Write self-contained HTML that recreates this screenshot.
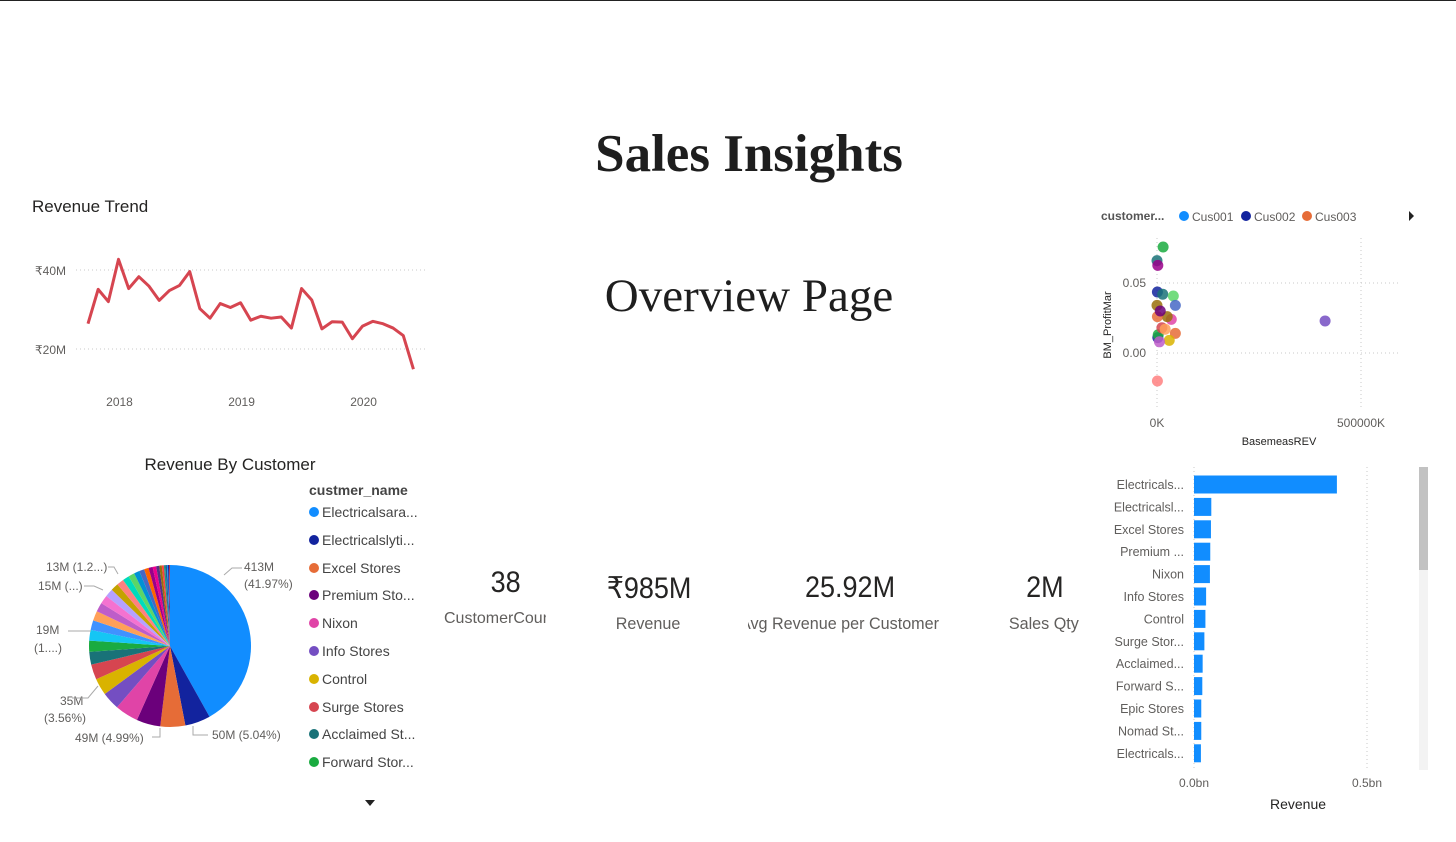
<!DOCTYPE html>
<html><head><meta charset="utf-8">
<style>
html,body{margin:0;padding:0;background:#fff;}
body{width:1456px;height:842px;position:relative;overflow:hidden;font-family:"Liberation Sans",sans-serif;color:#252423;}
.abs{position:absolute;}
.kv{position:absolute;font-size:30px;color:#252423;transform:scaleX(0.9);white-space:nowrap;}
.kl{position:absolute;font-size:17px;color:#605e5c;transform:scaleX(0.95);white-space:nowrap;}
</style></head>
<body>
<div class="abs" style="left:0;top:0;width:1456px;height:1px;background:#222"></div>
<div class="abs" style="left:449px;width:600px;top:124px;text-align:center;font-family:'Liberation Serif',serif;font-weight:bold;font-size:53px;color:#1e1e1e">Sales Insights</div>
<div class="abs" style="left:449px;width:600px;top:269px;text-align:center;font-family:'Liberation Serif',serif;font-size:47px;color:#1e1e1e">Overview Page</div>

<svg class="abs" style="left:0;top:0" width="1456" height="842">
<g id="line">
<text x="32" y="212" font-size="17" fill="#252423">Revenue Trend</text>
</g>
<g id="pie">
<text x="230" y="470" font-size="17" text-anchor="middle" fill="#252423">Revenue By Customer</text>
</g>
<g id="scatter"></g>
<g id="bars"></g>
</svg>

<div class="abs" style="left:309px;top:482px;font-size:14px;">
<div style="font-weight:bold;color:#444;margin-bottom:6px">custmer_name</div>
<div id="legend"></div>
<div style="position:absolute;left:56px;top:318px;width:0;height:0;border-left:5px solid transparent;border-right:5px solid transparent;border-top:6px solid #222"></div>
</div>

<div class="kv" style="left:489px;top:566px">38</div>
<div class="kl" style="left:444px;top:610px;width:102px;overflow:hidden;transform:none;font-size:16px">CustomerCount</div>
<div class="kv" style="left:602px;top:571px">₹985M</div>
<div class="kl" style="left:614px;top:614px">Revenue</div>
<div class="kv" style="left:800px;top:571px">25.92M</div>
<div class="abs" style="left:748px;top:614px;width:210px;overflow:hidden;height:22px"><div class="kl" style="left:-8px;top:0;transform-origin:0 0">Avg Revenue per Customer</div></div>
<div class="kv" style="left:1024px;top:571px">2M</div>
<div class="kl" style="left:1007px;top:614px">Sales Qty</div>

<div class="abs" style="left:1419px;top:467px;width:9px;height:303px;background:#f3f3f3"></div>
<div class="abs" style="left:1419px;top:467px;width:9px;height:103px;background:#c2c2c2"></div>

<script>
const NS="http://www.w3.org/2000/svg";
function mk(p,tag,a,txt){const e=document.createElementNS(NS,tag);for(const k in a)e.setAttribute(k,a[k]);if(txt!==undefined)e.textContent=txt;p.appendChild(e);return e;}
const PAL=["#118DFF","#12239E","#E66C37","#6B007B","#E044A7","#744EC2","#D9B300","#D64550","#197278","#1AAB40","#15C6F4","#4092FF","#FFA058","#BE5DC9","#F472D0","#B5A1FF","#C4A200","#FF8080","#00DBBC","#5BD667","#0091D5","#4668C5","#FF6300","#99008A","#EC008C","#533285","#99700A","#FF4141","#1F9A85","#255A8F","#118DFF","#12239E","#E66C37","#6B007B","#E044A7","#744EC2","#D9B300","#D64550"];

// ---- line chart data
const trendMonths=33; // Oct 2017 .. Jun 2020
const trendValues=[26.4,35.1,32.0,42.7,35.3,38.3,35.9,32.3,34.8,36.1,39.6,30.2,27.8,31.5,30.5,31.7,27.3,28.3,27.8,28.1,25.3,35.3,32.4,25.1,26.9,26.8,22.6,25.8,27.0,26.4,25.3,23.4,14.9];
const trendYTicks=[20,40];
const trendYearLabels=["2018","2019","2020"];
const trendYearIndex=[3,15,27];
{
 const g=document.getElementById('line');
 const x=i=>88+i*10.17, y=v=>349-(v-20)*3.95;
 trendYTicks.forEach(t=>{
  const gl=mk(g,'line',{x1:76,x2:425,y1:y(t),y2:y(t),stroke:'#c8c8c8','stroke-dasharray':'1 3'});
  
  const tl=mk(g,'text',{x:66,y:y(t)+5,'font-size':12,fill:'#605e5c','text-anchor':'end'},'₹'+t+'M');
  
 });
 trendYearLabels.forEach((l,k)=>{
  const t=mk(g,'text',{x:x(trendYearIndex[k])+1,y:406,'font-size':12,fill:'#605e5c','text-anchor':'middle'},l);
  
 });
 const p=mk(g,'polyline',{points:trendValues.map((v,i)=>x(i)+','+y(v)).join(' '),fill:'none',stroke:'#D64550','stroke-width':3,'stroke-linejoin':'round'});
 
}

// ---- pie data
const custNames=["Electricalsara...","Electricalslyti...","Excel Stores","Premium Sto...","Nixon","Info Stores","Control","Surge Stores","Acclaimed St...","Forward Stor..."];
const pieValues=[413,50,49,47,46,35,33,30,25,22,21,19,19,18,17,16,15,14,13,12,11,10,9,8,7,6,5,4,3,3,2,2,1,1];
{
 const g=document.getElementById('pie');
 const cx=170,cy=646,r=81,tot=pieValues.reduce((a,b)=>a+b,0);
 let a=0;
 pieValues.forEach((v,i)=>{
  const a0=a/tot*2*Math.PI,a1=(a+v)/tot*2*Math.PI;a+=v;
  const p0=[cx+r*Math.sin(a0),cy-r*Math.cos(a0)],p1=[cx+r*Math.sin(a1),cy-r*Math.cos(a1)];
  const s=mk(g,'path',{d:`M${cx},${cy}L${p0[0]},${p0[1]}A${r},${r} 0 ${a1-a0>Math.PI?1:0} 1 ${p1[0]},${p1[1]}Z`,fill:PAL[i%PAL.length]});
  
 });
 const labs=[[244,571,"413M"],[244,588,"(41.97%)"],[212,739,"50M (5.04%)"],[75,742,"49M (4.99%)"],[60,705,"35M"],[44,722,"(3.56%)"],[36,634,"19M"],[34,652,"(1....)"],[38,590,"15M (...)"],[46,571,"13M (1.2...)"]];
 labs.forEach(l=>{const t=mk(g,'text',{x:l[0],y:l[1],'font-size':12,fill:'#605e5c'},l[2]);
  });
 [[ "M224,575 L232,568 L242,568"],["M193,726 L193,735 L208,735"],["M160,728 L160,737 L152,737"],["M98,686 L88,698 L72,698"],["M91,631 L68,631"],["M103,590 L94,586 L84,586"],["M118,574 L114,567 L108,567"]].forEach(d=>{
  const l=mk(g,'path',{d:d[0],fill:'none',stroke:'#aaa','stroke-width':1});
  });
 const L=document.getElementById('legend');
 custNames.forEach((n,i)=>{
  const d=document.createElement('div');
  
  
  d.style.cssText='height:27.8px;color:#444;white-space:nowrap';
  d.innerHTML='<span style="display:inline-block;width:10px;height:10px;border-radius:50%;background:'+PAL[i]+';margin-right:3px"></span>'+n;
  L.appendChild(d);
 });
}

// ---- scatter data
const scatterX=[15000,0,2000,1000,14000,40000,45000,0,412000,35000,25000,45000,30000,2000,3000,12000,1000,6000,1000,8000,20000];
const scatterY=[0.0757,0.066,0.0626,0.0436,0.042,0.0407,0.034,0.034,0.0229,0.024,0.026,0.014,0.009,0.011,0.013,0.018,-0.02,0.008,0.026,0.030,0.017];
const scatterXTicks=[0,500000];
const scatterXTickLabels=["0K","500000K"];
const scatterYTicks=[0,0.05];
const scatterYTickLabels=["0.00","0.05"];
const scatterLegend=["Cus001","Cus002","Cus003"];
{
 const g=document.getElementById('scatter');
 const x=v=>1157+v*204/500000, y=v=>353-v*1400;
 const cols=["#1AAB40","#197278","#99008A","#12239E","#197278","#5BD667","#4668C5","#99700A","#744EC2","#E044A7","#99700A","#E66C37","#D9B300","#12239E","#1AAB40","#D64550","#FF8080","#BE5DC9","#E66C37","#6B007B","#FFA058"];
 scatterXTicks.forEach((t,i)=>{
  const l=mk(g,'line',{x1:x(t),x2:x(t),y1:238,y2:410,stroke:'#c8c8c8','stroke-dasharray':'1 3'});
  
  const tl=mk(g,'text',{x:x(t),y:427,'font-size':12,fill:'#605e5c','text-anchor':'middle'},scatterXTickLabels[i]);
  
 });
 scatterYTicks.forEach((t,i)=>{
  const l=mk(g,'line',{x1:1157,x2:1400,y1:y(t),y2:y(t),stroke:'#c8c8c8','stroke-dasharray':'1 3'});
  
  const tl=mk(g,'text',{x:1146,y:y(t)+4,'font-size':12,fill:'#605e5c','text-anchor':'end'},scatterYTickLabels[i]);
  
 });
 scatterX.forEach((v,i)=>{
  const c=mk(g,'circle',{cx:x(v),cy:y(scatterY[i]),r:5.5,fill:cols[i%cols.length],'fill-opacity':0.85});
  
 });
 const xt=mk(g,'text',{x:1279,y:445,'font-size':11,fill:'#252423','text-anchor':'middle'},'BasemeasREV');
 
 const yt=mk(g,'text',{x:0,y:0,'font-size':11,fill:'#252423','text-anchor':'middle',transform:'translate(1111,325) rotate(-90)'},'BM_ProfitMar');
 
 const lt=mk(g,'text',{x:1101,y:220,'font-size':12,'font-weight':'bold',fill:'#555'},'customer...');
 
 const lx=[1184,1246,1307],lc=["#118DFF","#12239E","#E66C37"];
 scatterLegend.forEach((n,i)=>{
  const c=mk(g,'circle',{cx:lx[i],cy:216,r:5,fill:lc[i]});
  
  const t=mk(g,'text',{x:lx[i]+8,y:221,'font-size':12,fill:'#605e5c'},n);
  
 });
 const ar=mk(g,'path',{d:'M1409,211 L1414,216 L1409,221Z',fill:'#222'});
 
}

// ---- bar data
const barNames=["Electricals...","Electricalsl...","Excel Stores","Premium ...","Nixon","Info Stores","Control","Surge Stor...","Acclaimed...","Forward S...","Epic Stores","Nomad St...","Electricals..."];
const barValues=[0.413,0.050,0.049,0.047,0.046,0.035,0.033,0.030,0.025,0.024,0.021,0.021,0.020];
const barTicks=[0,0.5];
const barTickLabels=["0.0bn","0.5bn"];
{
 const g=document.getElementById('bars');
 const x=v=>1194+v*346, yc=i=>484.5+i*22.4;
 barTicks.forEach((t,i)=>{
  const l=mk(g,'line',{x1:x(t),x2:x(t),y1:467,y2:770,stroke:'#c8c8c8','stroke-dasharray':'1 3'});
  
  const tl=mk(g,'text',{x:x(t),y:787,'font-size':12,fill:'#605e5c','text-anchor':'middle'},barTickLabels[i]);
  
 });
 barValues.forEach((v,i)=>{
  const r=mk(g,'rect',{x:x(0),y:yc(i)-9,width:x(v)-x(0),height:18,fill:'#118DFF'});
  
  const t=mk(g,'text',{x:1184,y:yc(i)+4.5,'font-size':12.5,fill:'#605e5c','text-anchor':'end'},barNames[i]);
  
 });
 const xt=mk(g,'text',{x:1298,y:809,'font-size':14,fill:'#252423','text-anchor':'middle'},'Revenue');
 
}
</script>
</body></html>
